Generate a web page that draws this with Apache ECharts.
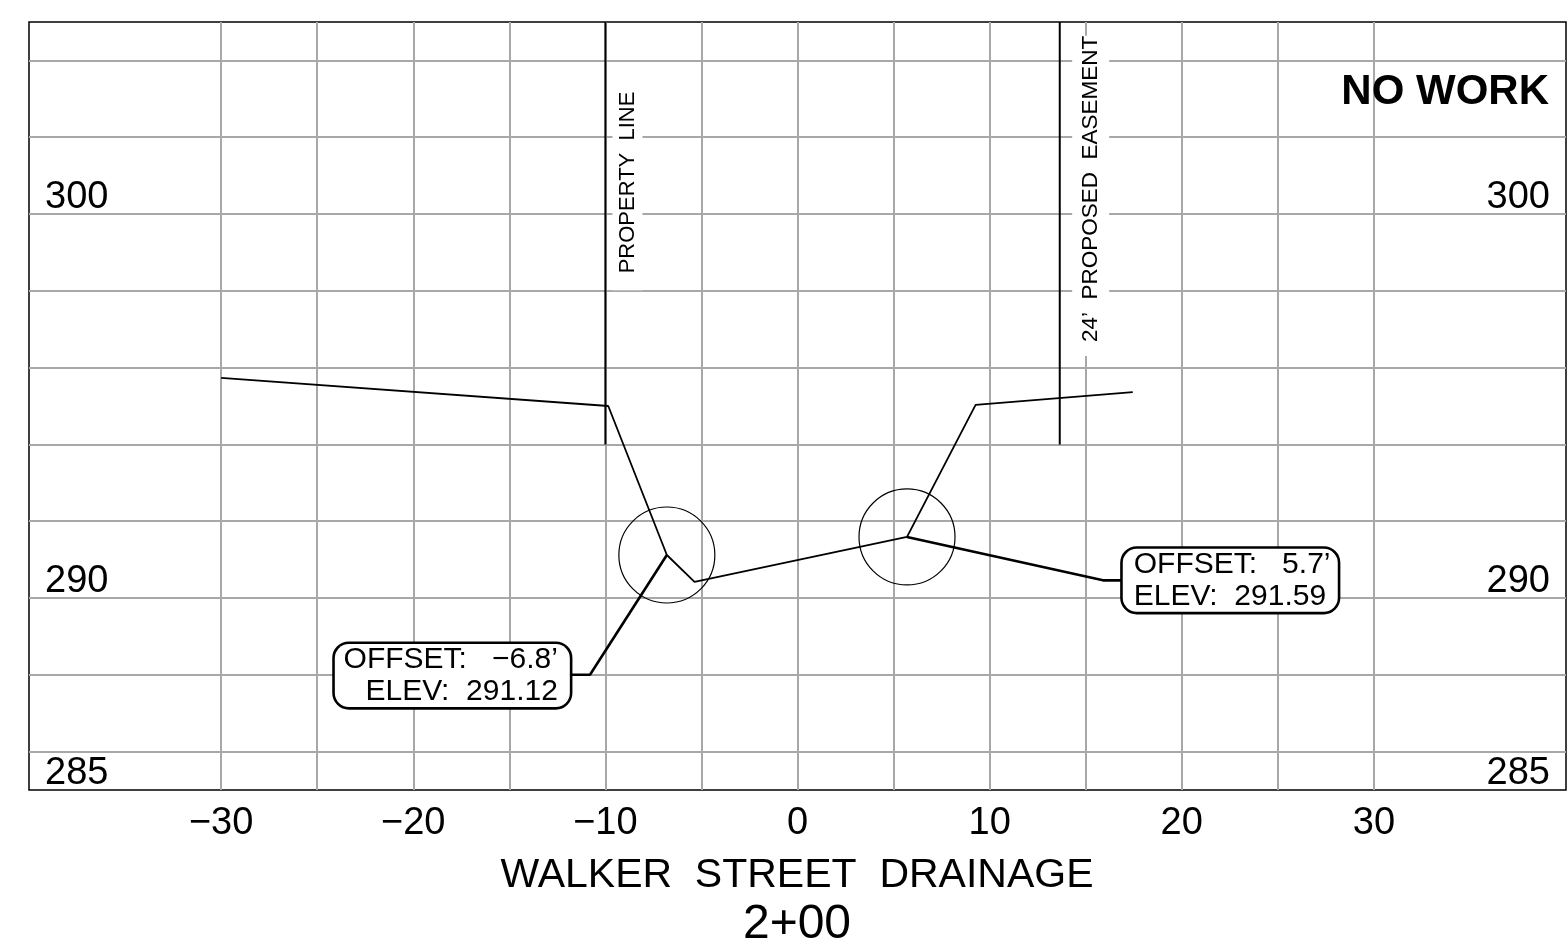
<!DOCTYPE html>
<html>
<head>
<meta charset="utf-8">
<title>Walker Street Drainage 2+00</title>
<style>
  html, body { margin: 0; padding: 0; background: #fff; }
  #main { width: 1568px; height: 952px; }
</style>
<script src="https://cdn.jsdelivr.net/npm/echarts@6/dist/echarts.min.js"></script>
</head>
<body>
<div id="main"></div>
<script>
// section data, x = offset (ft), y = elevation (ft)
const groundLine = [[-30, 295.73], [-9.85, 295.0], [-6.8, 291.12], [-5.36, 290.42], [5.7, 291.59], [9.27, 295.03], [17.45, 295.36]];
const propertyLine = [[-10, 294], [-10, 305]];
const easementLine = [[13.65, 294], [13.65, 305]];
const offsetPoints = [[-6.8, 291.12], [5.7, 291.59]];
const leaderLeft = [[-6.8, 291.12], [-10.8, 288], [-11.8, 288]];
const leaderRight = [[5.7, 291.59], [15.9, 290.46], [16.9, 290.46]];

const xGridValues = [-30, -25, -20, -15, -10, -5, 0, 5, 10, 15, 20, 25, 30];
const xLabelValues = [-30, -20, -10, 0, 10, 20, 30];
const yGridValues = [286, 288, 290, 292, 294, 296, 298, 300, 302, 304];
const yLabelValues = [285, 290, 300];

const propertyText = 'PROPERTY  LINE';
const easementText = '24’  PROPOSED  EASEMENT';
const calloutLeft = 'OFFSET:   −6.8’\nELEV:  291.12';
const calloutRight = 'OFFSET:   5.7’\nELEV:  291.59';

const chart = echarts.init(document.getElementById('main'));

const textFont = 'Liberation Sans';
const gridStyle = { color: '#a8a8a8', width: 2 };

// text placed on the section, no visible symbol
function noteSeries(point, label) {
  return {
    type: 'scatter',
    data: [point],
    symbolSize: 0,
    silent: true,
    z: 5,
    itemStyle: { opacity: 1 },
    label: Object.assign({
      show: true,
      position: 'inside',
      formatter: '{b}',
      color: '#000',
      fontFamily: textFont
    }, label)
  };
}

function blackLine(data, width) {
  return {
    type: 'line',
    data: data,
    showSymbol: false,
    silent: true,
    z: 4,
    lineStyle: { color: '#000', width: width }
  };
}

const yLabelCommon = {
  show: true,
  inside: true,
  customValues: yLabelValues,
  margin: 16,
  fontSize: 38,
  fontFamily: textFont,
  color: '#000',
  verticalAlign: 'bottom',
  lineHeight: 32
};

chart.setOption({
  animation: false,
  backgroundColor: '#fff',
  title: [
    { text: 'WALKER  STREET  DRAINAGE', left: 797, top: 855, padding: 0, textAlign: 'center',
      textStyle: { fontFamily: textFont, fontWeight: 'normal', fontSize: 41, color: '#000' } },
    { text: '2+00', left: 797, top: 901, padding: 0, textAlign: 'center',
      textStyle: { fontFamily: textFont, fontWeight: 'normal', fontSize: 48, color: '#000' } },
    { text: 'NO WORK', right: 19, top: 71, padding: 0,
      textStyle: { fontFamily: textFont, fontWeight: 'bold', fontSize: 42, color: '#000' } }
  ],
  grid: {
    left: 29, right: 2, top: 22, bottom: 162,
    show: true,
    borderColor: '#000',
    borderWidth: 1.5,
    backgroundColor: '#fff'
  },
  xAxis: {
    type: 'value',
    min: -40,
    max: 40,
    axisLine: { show: false },
    axisTick: { show: false, customValues: xGridValues },
    splitLine: { show: true, lineStyle: gridStyle },
    axisLabel: {
      customValues: xLabelValues,
      margin: 15,
      fontSize: 38,
      fontFamily: textFont,
      color: '#000',
      formatter: (v) => String(v).replace('-', '−')
    }
  },
  yAxis: [
    {
      type: 'value',
      min: 285,
      max: 305,
      axisLine: { show: false },
      axisTick: { show: false, customValues: yGridValues },
      splitLine: { show: true, lineStyle: gridStyle },
      axisLabel: yLabelCommon
    },
    {
      type: 'value',
      position: 'right',
      min: 285,
      max: 305,
      axisLine: { show: false },
      axisTick: { show: false },
      splitLine: { show: false },
      axisLabel: yLabelCommon
    }
  ],
  series: [
    blackLine(propertyLine, 2),
    blackLine(easementLine, 2),
    blackLine(groundLine, 1.8),
    blackLine(leaderLeft, 2.6),
    blackLine(leaderRight, 2.6),
    {
      type: 'scatter',
      data: offsetPoints,
      symbol: 'circle',
      symbolSize: 96,
      silent: true,
      z: 4,
      itemStyle: { color: 'rgba(0,0,0,0)', borderColor: '#000', borderWidth: 1.2, opacity: 1 }
    },
    noteSeries({ name: propertyText, value: [-8.85, 300.6] }, {
      rotate: 90, fontSize: 22, backgroundColor: '#fff', padding: [6, 0, 2, 17]
    }),
    noteSeries({ name: easementText, value: [15.26, 300.47] }, {
      rotate: 90, fontSize: 22.5, backgroundColor: '#fff', padding: [14, 0, 0, 14]
    }),
    noteSeries({ name: calloutLeft, value: [-11.85, 287.98] }, {
      fontSize: 30, lineHeight: 32, align: 'right',
      backgroundColor: '#fff', borderColor: '#000', borderWidth: 2.6, borderRadius: 14,
      width: 211, height: 58, padding: [5, 12, 0, 12]
    }),
    noteSeries({ name: calloutRight, value: [16.93, 290.46] }, {
      fontSize: 30, lineHeight: 32, align: 'left',
      backgroundColor: '#fff', borderColor: '#000', borderWidth: 2.6, borderRadius: 14,
      width: 193, height: 58, padding: [5, 11, 0, 11]
    })
  ]
});
</script>
</body>
</html>
